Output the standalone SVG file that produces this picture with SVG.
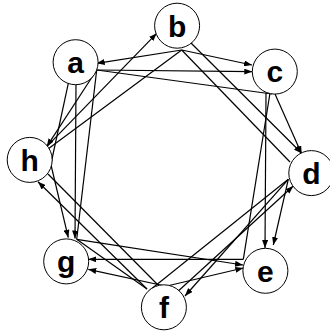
<svg xmlns="http://www.w3.org/2000/svg" width="330" height="332" viewBox="0 0 330 332">
<style>
.n circle{fill:#fff;stroke:#000;stroke-width:1}
.n text{font-family:"Liberation Sans",Arial,sans-serif;font-weight:bold;font-size:30px;text-anchor:middle}
.e line{stroke:#000;stroke-width:1.2;fill:none}
</style>
<defs>
<marker id="ar" markerWidth="8" markerHeight="6" refX="8" refY="3" orient="auto" markerUnits="userSpaceOnUse"><path d="M0,0 L8,3 L0,6 z" fill="#000"/></marker>
</defs>
<rect width="330" height="332" fill="#fff"/>
<g class="e">
<line x1="46.7" y1="146.7" x2="156.7" y2="33.3" marker-end="url(#ar)"/>
<line x1="181.7" y1="50" x2="96.7" y2="63.3" marker-end="url(#ar)"/>
<line x1="96.7" y1="70" x2="252.3" y2="71.7" marker-end="url(#ar)"/>
<line x1="181.7" y1="50" x2="252" y2="65" marker-end="url(#ar)"/>
<line x1="96.7" y1="70" x2="272" y2="94"/>
<line x1="181.7" y1="50" x2="48" y2="149"/>
<line x1="190" y1="42" x2="301.7" y2="153.3" marker-end="url(#ar)"/>
<line x1="181.7" y1="50" x2="290" y2="162"/>
<line x1="266" y1="93" x2="265" y2="248" marker-end="url(#ar)"/>
<line x1="275" y1="94" x2="301.7" y2="154" marker-end="url(#ar)"/>
<line x1="270" y1="93" x2="243.3" y2="259.3"/>
<line x1="288.3" y1="179.3" x2="273.3" y2="245" marker-end="url(#ar)"/>
<line x1="288.3" y1="179.3" x2="185" y2="296" marker-end="url(#ar)"/>
<line x1="178.3" y1="291" x2="293.3" y2="186" marker-end="url(#ar)"/>
<line x1="288.3" y1="179.3" x2="150" y2="290"/>
<line x1="243.3" y1="259.3" x2="88.3" y2="259.3" marker-end="url(#ar)"/>
<line x1="76.7" y1="239.3" x2="243" y2="265" marker-end="url(#ar)"/>
<line x1="150" y1="290" x2="243.3" y2="268" marker-end="url(#ar)"/>
<line x1="165" y1="286" x2="88.3" y2="269.3" marker-end="url(#ar)"/>
<line x1="76.7" y1="239.3" x2="147" y2="289"/>
<line x1="147" y1="289" x2="38" y2="181.7" marker-end="url(#ar)"/>
<line x1="48" y1="174" x2="157" y2="284"/>
<line x1="76" y1="84.5" x2="75" y2="238.5" marker-end="url(#ar)"/>
<line x1="96.7" y1="70" x2="76.7" y2="239.3"/>
<line x1="96.7" y1="70" x2="46.7" y2="146.7" marker-end="url(#ar)"/>
<line x1="68.3" y1="83.3" x2="50.5" y2="166"/>
<line x1="51" y1="165" x2="68.3" y2="237.7" marker-end="url(#ar)"/>
</g>
<g id="a" class="n"><circle cx="75.6" cy="62.2" r="22.5"/><text x="75.6" y="73">a</text></g>
<g id="b" class="n"><circle cx="177.1" cy="25.7" r="22.5"/><text x="177.1" y="36.5">b</text></g>
<g id="c" class="n"><circle cx="274.8" cy="71.6" r="22.5"/><text x="274.8" y="82.4">c</text></g>
<g id="d" class="n"><circle cx="311.3" cy="173.1" r="22.5"/><text x="311.3" y="183.9">d</text></g>
<g id="e" class="n"><circle cx="265.4" cy="270.8" r="22.5"/><text x="265.4" y="281.6">e</text></g>
<g id="f" class="n"><circle cx="163.9" cy="307.3" r="22.5"/><text x="163.9" y="318.1">f</text></g>
<g id="g" class="n"><circle cx="66.2" cy="261.4" r="22.5"/><text x="66.2" y="272.2">g</text></g>
<g id="h" class="n"><circle cx="29.7" cy="159.9" r="22.5"/><text x="29.7" y="170.7">h</text></g>
</svg>
